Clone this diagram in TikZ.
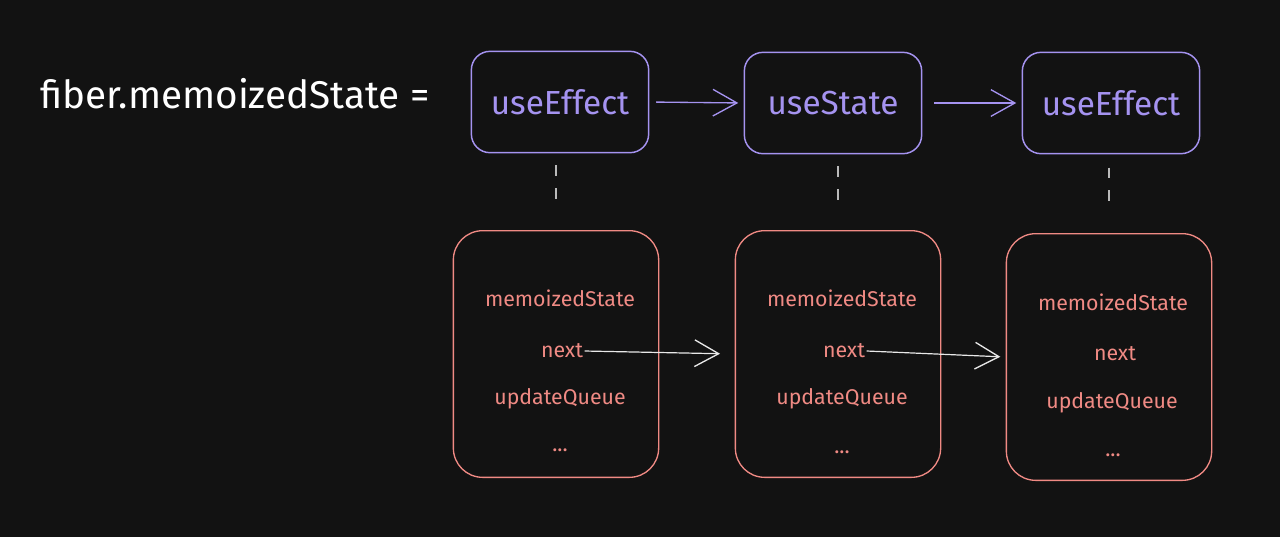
\documentclass[tikz,border=0pt]{standalone}
\usepackage{fontspec}
\setmainfont{Fira Sans}
\usetikzlibrary{arrows.meta}
\definecolor{bg}{HTML}{121212}
\definecolor{hookc}{HTML}{A593F0}
\definecolor{cellc}{HTML}{F08A84}
\definecolor{linkc}{HTML}{E8E8E8}
\begin{document}
\begin{tikzpicture}[x=0.75pt,y=-0.75pt,
  hook/.style={draw=hookc,line width=1.1pt,rounded corners=14pt,minimum width=133pt,minimum height=76pt,text=hookc,font=\fontsize{25}{30}\selectfont},
  cell/.style={draw=cellc,line width=1pt,rounded corners=22pt,minimum width=154pt,minimum height=185pt},
  field/.style={text=cellc,font=\fontsize{16}{19}\selectfont,inner sep=1pt},
  chev/.style={-{Straight Barb[length=18pt,width=20pt,line width=1pt]}},
  flow/.style={chev,draw=hookc,line width=1pt},
  link/.style={chev,draw=linkc,line width=0.9pt},
  tie/.style={draw=linkc!80!black,line width=0.8pt,dash pattern=on 8pt off 9pt}]
\fill[bg] (0,0) rectangle (1280,537);
\useasboundingbox (0,0) rectangle (1280,537);
\node[text=white,font=\fontsize{29}{34}\selectfont,anchor=west] (lbl) at (36,94) {fiber.memoizedState =};
\node[hook] (p1) at (560,102) {useEffect};
\node[hook] (p2) at (833,103) {useState};
\node[hook] (p3) at (1111,103) {useEffect};
\node[cell] (r1) at (556,354) {};
\node[cell] (r2) at (838,354) {};
\node[cell] (r3) at (1109,357) {};
\node[field] (m1) at (560,298) {memoizedState};
\node[field] (n1) at (562,351) {next};
\node[field] (u1) at (560,399) {updateQueue};
\node[field] (d1) at (560,450) {...};
\node[field] (m2) at (842,298) {memoizedState};
\node[field] (n2) at (844,351) {next};
\node[field] (u2) at (842,399) {updateQueue};
\node[field] (d2) at (842,452) {...};
\node[field] (m3) at (1113,302) {memoizedState};
\node[field] (n3) at (1115,354) {next};
\node[field] (u3) at (1112,403) {updateQueue};
\node[field] (d3) at (1113,455) {...};
\draw[flow,shorten <=5pt,shorten >=4pt] (p1.east) -- (p2.west);
\draw[flow,shorten <=9pt,shorten >=4pt] (p2.east) -- (p3.west);
\draw[link,shorten >=11pt] (n1.east) -- (r2.west);
\draw[link,shorten >=4pt] (n2.east) -- (r3.west);
\draw[tie,shorten <=9pt,shorten >=16pt] (r1.north |- p1.south) -- (r1.north);
\draw[tie,shorten <=9pt,shorten >=17pt] (r2.north |- p2.south) -- (r2.north);
\draw[tie,shorten <=10pt,shorten >=17pt] (r3.north |- p3.south) -- (r3.north);
\end{tikzpicture}
\end{document}
